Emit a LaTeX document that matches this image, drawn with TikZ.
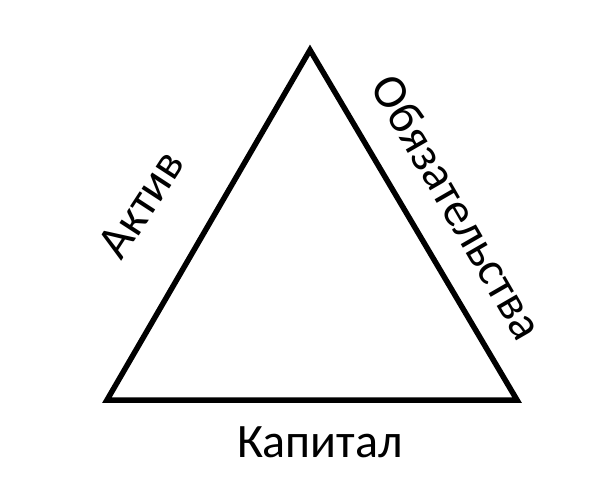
\documentclass[tikz,border=0pt]{standalone}
\usepackage{fontspec}
\setmainfont{Carlito}
\begin{document}
\begin{tikzpicture}[x=1pt,y=-1pt,
  lbl/.style={font=\fontsize{48}{52}\selectfont, inner sep=0pt}]
\useasboundingbox (0,0) rectangle (594,485);
\coordinate (A) at (310,50);
\coordinate (B) at (107,400);
\coordinate (C) at (517,400);
\draw[line width=5.5pt, line join=miter] (A) -- (B) -- (C) -- cycle;
\node[lbl, rotate=57] (aktiv) at (141,204) {Актив};
\node[lbl, rotate=-60] (obyaz) at (458,207) {Обязательства};
\node[lbl] (kap) at (320,442) {Капитал};
\end{tikzpicture}
\end{document}
